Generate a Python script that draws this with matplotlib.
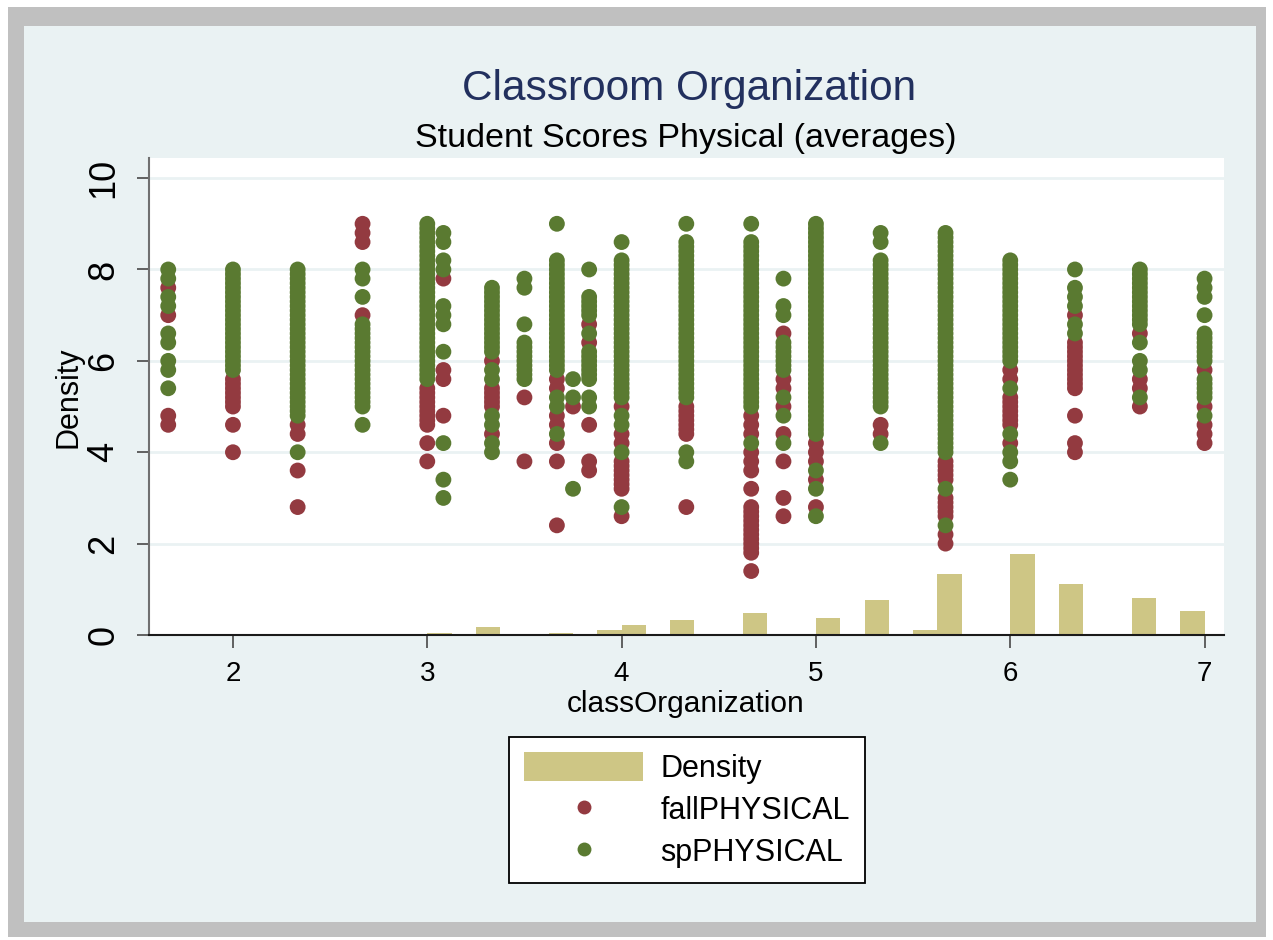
import matplotlib.pyplot as plt
from matplotlib.patches import Rectangle, Patch
from matplotlib.lines import Line2D

plt.rcParams['font.family'] = ['Liberation Sans', 'DejaVu Sans']

W, H = 1273, 940

# classOrganization values (one column of dots each)
class_org = [1.667, 2.0, 2.333, 2.667, 3.0, 3.083, 3.333, 3.5, 3.667, 3.75, 3.833,
             4.0, 4.333, 4.667, 4.833, 5.0, 5.333, 5.667, 6.0, 6.333, 6.667, 7.0]

# fall scores per column
fall_scores = [
    [7.6, 7.0, 4.8, 4.6],
    [5.6, 5.5, 5.4, 5.3, 5.2, 5.1, 5.0, 4.6, 4.0],
    [4.6, 4.4, 3.6, 2.8],
    [9.0, 8.8, 8.6, 7.0],
    [5.4, 5.3, 5.2, 5.1, 5.0, 4.9, 4.8, 4.7, 4.6, 4.2, 3.8],
    [7.8, 5.8, 5.6, 4.8],
    [6.0, 5.4, 5.3, 5.2, 5.1, 5.0, 4.4],
    [5.2, 3.8],
    [5.6, 5.4, 4.8, 4.6, 4.2, 3.8, 2.4],
    [5.0],
    [6.8, 6.4, 4.6, 3.8, 3.6],
    [5.0, 4.4, 4.2, 3.8, 3.7, 3.6, 3.5, 3.4, 3.3, 3.2, 2.6],
    [5.0, 4.9, 4.8, 4.7, 4.6, 4.5, 4.4, 2.8],
    [4.8, 4.6, 4.4, 4.0, 3.8, 3.6, 3.2, 2.8, 2.7, 2.6, 2.5, 2.4, 2.3, 2.2, 2.1,
     2.0, 1.9, 1.8, 1.4],
    [6.6, 5.6, 5.4, 5.0, 4.4, 3.8, 3.0, 2.6],
    [4.2, 4.0, 3.8, 3.4, 2.8],
    [4.6, 4.4],
    [3.8, 3.7, 3.6, 3.5, 3.4, 3.0, 2.9, 2.8, 2.7, 2.6, 2.2, 2.0],
    [5.8, 5.6, 5.2, 5.1, 5.0, 4.9, 4.8, 4.7, 4.6, 4.2],
    [7.0, 6.4, 6.3, 6.2, 6.1, 6.0, 5.9, 5.8, 5.7, 5.6, 5.5, 5.4, 4.8, 4.2, 4.0],
    [6.6, 5.6, 5.4, 5.0],
    [5.8, 5.0, 4.6, 4.4, 4.2],
]

# spring scores per column
sp_scores = [
    [8.0, 7.8, 7.4, 7.2, 6.6, 6.4, 6.0, 5.8, 5.4],
    [8.0, 7.9, 7.8, 7.7, 7.6, 7.5, 7.4, 7.3, 7.2, 7.1, 7.0, 6.9, 6.8, 6.7, 6.6,
     6.5, 6.4, 6.3, 6.2, 6.1, 6.0, 5.9, 5.8],
    [8.0, 7.9, 7.8, 7.7, 7.6, 7.5, 7.4, 7.3, 7.2, 7.1, 7.0, 6.9, 6.8, 6.7, 6.6,
     6.5, 6.4, 6.3, 6.2, 6.1, 6.0, 5.9, 5.8, 5.7, 5.6, 5.5, 5.4, 5.3, 5.2, 5.1,
     5.0, 4.9, 4.8, 4.0],
    [8.0, 7.8, 7.4, 6.8, 6.7, 6.6, 6.5, 6.4, 6.3, 6.2, 6.1, 6.0, 5.9, 5.8, 5.7,
     5.6, 5.5, 5.4, 5.3, 5.2, 5.1, 5.0, 4.6],
    [9.0, 8.9, 8.8, 8.7, 8.6, 8.5, 8.4, 8.3, 8.2, 8.1, 8.0, 7.9, 7.8, 7.7, 7.6,
     7.5, 7.4, 7.3, 7.2, 7.1, 7.0, 6.9, 6.8, 6.7, 6.6, 6.5, 6.4, 6.3, 6.2, 6.1,
     6.0, 5.9, 5.8, 5.7, 5.6],
    [8.8, 8.6, 8.2, 8.0, 7.2, 7.0, 6.8, 6.2, 4.2, 3.4, 3.0],
    [7.6, 7.5, 7.4, 7.3, 7.2, 7.1, 7.0, 6.9, 6.8, 6.7, 6.6, 6.5, 6.4, 6.3, 6.2,
     5.8, 5.6, 4.8, 4.6, 4.2, 4.0],
    [7.8, 7.6, 6.8, 6.4, 6.3, 6.2, 6.1, 6.0, 5.9, 5.8, 5.7, 5.6],
    [9.0, 8.2, 8.1, 8.0, 7.9, 7.8, 7.7, 7.6, 7.5, 7.4, 7.3, 7.2, 7.1, 7.0, 6.9,
     6.8, 6.7, 6.6, 6.5, 6.4, 6.3, 6.2, 6.1, 6.0, 5.9, 5.8, 5.2, 5.0, 4.4],
    [5.6, 5.2, 3.2],
    [8.0, 7.4, 7.3, 7.2, 7.1, 7.0, 6.6, 6.2, 6.1, 6.0, 5.9, 5.8, 5.7, 5.6, 5.2,
     5.0],
    [8.6, 8.2, 8.1, 8.0, 7.9, 7.8, 7.7, 7.6, 7.5, 7.4, 7.3, 7.2, 7.1, 7.0, 6.9,
     6.8, 6.7, 6.6, 6.5, 6.4, 6.3, 6.2, 6.1, 6.0, 5.9, 5.8, 5.7, 5.6, 5.5, 5.4,
     5.3, 5.2, 4.8, 4.6, 4.0, 2.8],
    [9.0, 8.6, 8.5, 8.4, 8.3, 8.2, 8.1, 8.0, 7.9, 7.8, 7.7, 7.6, 7.5, 7.4, 7.3,
     7.2, 7.1, 7.0, 6.9, 6.8, 6.7, 6.6, 6.5, 6.4, 6.3, 6.2, 6.1, 6.0, 5.9, 5.8,
     5.7, 5.6, 5.5, 5.4, 5.3, 5.2, 4.0, 3.8],
    [9.0, 8.6, 8.5, 8.4, 8.3, 8.2, 8.1, 8.0, 7.9, 7.8, 7.7, 7.6, 7.5, 7.4, 7.3,
     7.2, 7.1, 7.0, 6.9, 6.8, 6.7, 6.6, 6.5, 6.4, 6.3, 6.2, 6.1, 6.0, 5.9, 5.8,
     5.7, 5.6, 5.5, 5.4, 5.3, 5.2, 5.1, 5.0, 4.2],
    [7.8, 7.2, 7.0, 6.4, 6.3, 6.2, 6.1, 6.0, 5.9, 5.8, 5.2, 4.8, 4.2],
    [9.0, 8.9, 8.8, 8.7, 8.6, 8.5, 8.4, 8.3, 8.2, 8.1, 8.0, 7.9, 7.8, 7.7, 7.6,
     7.5, 7.4, 7.3, 7.2, 7.1, 7.0, 6.9, 6.8, 6.7, 6.6, 6.5, 6.4, 6.3, 6.2, 6.1,
     6.0, 5.9, 5.8, 5.7, 5.6, 5.5, 5.4, 5.3, 5.2, 5.1, 5.0, 4.9, 4.8, 4.7, 4.6,
     4.5, 4.4, 3.6, 3.2, 2.6],
    [8.8, 8.6, 8.2, 8.1, 8.0, 7.9, 7.8, 7.7, 7.6, 7.5, 7.4, 7.3, 7.2, 7.1, 7.0,
     6.9, 6.8, 6.7, 6.6, 6.5, 6.4, 6.3, 6.2, 6.1, 6.0, 5.9, 5.8, 5.7, 5.6, 5.5,
     5.4, 5.3, 5.2, 5.1, 5.0, 4.2],
    [8.8, 8.7, 8.6, 8.5, 8.4, 8.3, 8.2, 8.1, 8.0, 7.9, 7.8, 7.7, 7.6, 7.5, 7.4,
     7.3, 7.2, 7.1, 7.0, 6.9, 6.8, 6.7, 6.6, 6.5, 6.4, 6.3, 6.2, 6.1, 6.0, 5.9,
     5.8, 5.7, 5.6, 5.5, 5.4, 5.3, 5.2, 5.1, 5.0, 4.9, 4.8, 4.7, 4.6, 4.5, 4.4,
     4.3, 4.2, 4.1, 4.0, 3.2, 2.4],
    [8.2, 8.1, 8.0, 7.9, 7.8, 7.7, 7.6, 7.5, 7.4, 7.3, 7.2, 7.1, 7.0, 6.9, 6.8,
     6.7, 6.6, 6.5, 6.4, 6.3, 6.2, 6.1, 6.0, 5.4, 4.4, 4.0, 3.8, 3.4],
    [8.0, 7.6, 7.4, 7.2, 6.8, 6.6],
    [8.0, 7.9, 7.8, 7.7, 7.6, 7.5, 7.4, 7.3, 7.2, 7.1, 7.0, 6.9, 6.8, 6.4, 6.0,
     5.8, 5.2],
    [7.8, 7.6, 7.4, 7.0, 6.6, 6.5, 6.4, 6.3, 6.2, 6.1, 6.0, 5.6, 5.5, 5.4, 5.3,
     5.2, 4.8],
]

# histogram of classOrganization (bin left edges, density)
bin_left = [3.0, 3.25, 3.625, 3.875, 4.0, 4.25, 4.625, 5.0, 5.25, 5.5, 5.625,
            6.0, 6.25, 6.625, 6.875]
bin_density = [0.044, 0.18, 0.044, 0.10, 0.21, 0.32, 0.48, 0.38, 0.76, 0.10,
               1.33, 1.78, 1.11, 0.80, 0.53]
bin_width = 0.125

c_bar = '#cec685'
c_fall = '#933a40'
c_sp = '#5a7a31'
c_bg = '#eaf2f3'


def fig_rect(x0, y0, x1, y1):
    # pixel box (top-left origin) -> figure fraction rect
    return [x0 / W, 1 - y1 / H, (x1 - x0) / W, (y1 - y0) / H]


fig = plt.figure(figsize=(W / 100, H / 100), dpi=100)
fig.patch.set_facecolor('white')

# Frame around the graph
r = fig_rect(8, 7, 1266, 937)
fig.add_artist(Rectangle((r[0], r[1]), r[2], r[3], transform=fig.transFigure,
                         facecolor='#c0c0c0', edgecolor='none', zorder=-20))
r = fig_rect(24, 26, 1256, 922)
fig.add_artist(Rectangle((r[0], r[1]), r[2], r[3], transform=fig.transFigure,
                         facecolor=c_bg, edgecolor='none', zorder=-19))

ax = fig.add_axes(fig_rect(149, 158, 1224, 635))
ax.set_facecolor('white')

ax.bar(bin_left, bin_density, width=bin_width, align='edge', color=c_bar,
       edgecolor='none', zorder=2)

fall_x, fall_y, sp_x, sp_y = [], [], [], []
for x, f, s in zip(class_org, fall_scores, sp_scores):
    fall_x += [x] * len(f)
    fall_y += f
    sp_x += [x] * len(s)
    sp_y += s

ax.scatter(fall_x, fall_y, s=130, color=c_fall, edgecolors='none', zorder=3)
ax.scatter(sp_x, sp_y, s=130, color=c_sp, edgecolors='none', zorder=4)

ax.set_xlim(1.568, 7.100)
ax.set_ylim(0, 10.44)
ax.set_xticks([2, 3, 4, 5, 6, 7])
ax.set_yticks([0, 2, 4, 6, 8, 10])
ax.yaxis.grid(True, color=c_bg, linewidth=2)
ax.set_axisbelow(True)

for side in ['top', 'right']:
    ax.spines[side].set_visible(False)
ax.spines['left'].set_color('#707070')
ax.spines['left'].set_linewidth(1.5)
ax.spines['bottom'].set_color('#1a1a1a')
ax.spines['bottom'].set_linewidth(1.5)

ax.tick_params(axis='x', length=9, width=1.3, color='#555555', pad=10,
               labelsize=20)
ax.tick_params(axis='y', length=9, width=1.3, color='#555555', pad=11,
               labelsize=26)
for lab in ax.get_yticklabels():
    lab.set_rotation(90)
    lab.set_va('center')

fig.text(689 / W, 1 - 100 / H, 'Classroom Organization', ha='center',
         va='baseline', fontsize=30.5, color='#22305e')
fig.text(686 / W, 1 - 147 / H, 'Student Scores Physical (averages)',
         ha='center', va='baseline', fontsize=24.5, color='black')
fig.text(686 / W, 1 - 712 / H, 'classOrganization', ha='center',
         va='baseline', fontsize=21.5)
fig.text(69 / W, 1 - 397 / H, 'Density', ha='center', va='center',
         rotation=90, fontsize=22)

handles = [
    Patch(facecolor=c_bar, edgecolor='none'),
    Line2D([], [], marker='o', linestyle='none', markersize=10,
           markerfacecolor=c_fall, markeredgecolor='none'),
    Line2D([], [], marker='o', linestyle='none', markersize=10,
           markerfacecolor=c_sp, markeredgecolor='none'),
]
leg = fig.legend(handles, ['Density', 'fallPHYSICAL', 'spPHYSICAL'],
                 loc='upper center', bbox_to_anchor=(687 / W, 1 - 737 / H),
                 fontsize=22, frameon=True, fancybox=False, shadow=False,
                 handlelength=3.9, handleheight=1.08, handletextpad=0.55,
                 borderpad=0.5, labelspacing=0.33, borderaxespad=0)
leg.get_frame().set_edgecolor('black')
leg.get_frame().set_linewidth(1.3)
leg.get_frame().set_facecolor('white')
leg.get_frame().set_alpha(1)

fig.savefig('out.png', dpi=100)
